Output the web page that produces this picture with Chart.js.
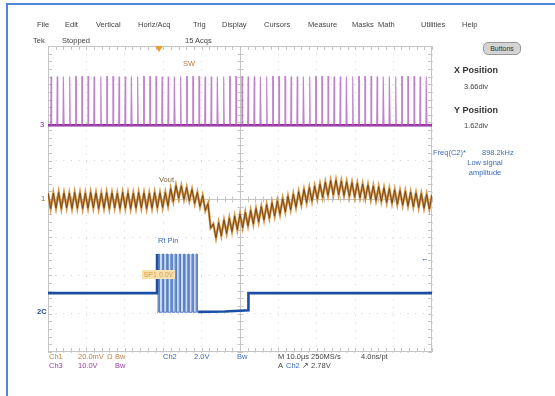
<!DOCTYPE html>
<html>
<head>
<meta charset="utf-8">
<script src="https://cdn.jsdelivr.net/npm/chart.js@4.4.1/dist/chart.umd.min.js"></script>
<style>
  body { margin: 0; width: 555px; height: 396px; overflow: hidden; position: relative; background: #fff;
         font-family: "Liberation Sans", Arial, sans-serif; }
  #frame { position: absolute; left: 6px; top: 3px; width: 600px; height: 420px;
           border-left: 2px solid #4f86d6; border-top: 2px solid #4f86d6; }
  canvas { position: absolute; left: 0; top: 0; }
  .t { position: absolute; font-size: 7.5px; line-height: 10px; color: #444; white-space: nowrap; }
  .b { font-weight: bold; font-size: 9px; color: #333; }
  #btn { position: absolute; left: 483px; top: 42px; width: 36px; height: 11px; border-radius: 5px;
         background: #d4d4d4; border: 1px solid #999; font-size: 7px; line-height: 11px; text-align: center; color: #333; }
  #sp1 { position: absolute; left: 142px; top: 270px; width: 33px; height: 9px; background: #f8e0ae;
         font-size: 7px; line-height: 9px; color: #d9a04a; text-align: center; }
</style>
</head>
<body>
<div id="frame"></div>
<canvas id="scope" width="555" height="396"></canvas>
<div id="btn">Buttons</div>
<div id="sp1">SP1 0.0V</div>
<script>
// screen is 10 x 8 divisions, values in divisions
var divX = [0, 10];
var divY = [-4, 4];

// ch3 (SW) : switching pulses, times in div
var swLow = 1.93;
var swHigh = 3.2;
var swPulses = [0.08, 0.24, 0.40, 0.56, 0.72, 0.88, 1.04, 1.20, 1.37, 1.53, 1.69, 1.85, 2.01,
  2.17, 2.33, 2.49, 2.65, 2.81, 2.97, 3.13, 3.29, 3.45, 3.61, 3.77, 3.93, 4.09, 4.25, 4.41,
  4.57, 4.73, 4.89, 5.05, 5.21, 5.37, 5.53, 5.69, 5.85, 6.01, 6.17, 6.33, 6.49, 6.65, 6.81,
  6.97, 7.13, 7.29, 7.45, 7.61, 7.77, 7.93, 8.09, 8.25, 8.41, 8.57, 8.73, 8.89, 9.05, 9.21,
  9.37, 9.53, 9.69, 9.85];

// ch1 (Vout) : ripple vertices, one every voutStep div
var voutStep = 10 / 144;
var vout = [
  0.16, -0.25, 0.15, -0.24, 0.17, -0.25, 0.16, -0.23, 0.15, -0.25, 0.17, -0.24, 0.16, -0.25,
  0.15, -0.24, 0.17, -0.23, 0.16, -0.25, 0.15, -0.24, 0.17, -0.25, 0.16, -0.23, 0.15, -0.25,
  0.17, -0.24, 0.16, -0.25, 0.15, -0.24, 0.17, -0.23, 0.16, -0.25, 0.15, -0.24, 0.17, -0.23,
  0.16, -0.22, 0.17, -0.18, 0.27, -0.06, 0.35, 0.02, 0.34, -0.01, 0.30, -0.05, 0.25, -0.12,
  0.17, -0.20, 0.09, -0.30, -0.12, -0.76, -0.65, -1.02, -0.62, -0.96, -0.55, -0.90, -0.50,
  -0.85, -0.45, -0.80, -0.40, -0.75, -0.35, -0.70, -0.30, -0.65, -0.25, -0.60, -0.20, -0.55,
  -0.15, -0.50, -0.10, -0.45, -0.05, -0.40, 0.01, -0.34, 0.07, -0.28, 0.13, -0.22, 0.19, -0.15,
  0.25, -0.10, 0.30, -0.05, 0.34, 0.00, 0.39, 0.04, 0.44, 0.09, 0.48, 0.11, 0.49, 0.11, 0.47,
  0.09, 0.45, 0.07, 0.43, 0.05, 0.41, 0.03, 0.39, 0.01, 0.37, -0.01, 0.34, -0.04, 0.32, -0.06,
  0.29, -0.09, 0.27, -0.11, 0.24, -0.14, 0.22, -0.16, 0.20, -0.18, 0.18, -0.20, 0.16, -0.22,
  0.14, -0.24, 0.12, -0.26, 0.11];

// ch2 (Rt pin)
var ch2Times  = [0, 2.84, 2.84, 3.37, 3.91, 4.60, 5.22, 5.22, 10];
var ch2Levels = [-2.46, -2.46, -1.44, null, -2.95, -2.94, -2.91, -2.46, -2.46];
var burstStart = 2.84, burstEnd = 3.91;
var burstHigh = -1.44, burstLow = -2.96;
var burstTimes = [2.87, 2.98, 3.09, 3.20, 3.31, 3.42, 3.53, 3.64, 3.75, 3.86];

var swData = [{x: 0, y: swLow}];
swPulses.forEach(function(t) {
  swData.push({x: t - 0.01, y: swLow}, {x: t, y: swHigh}, {x: t + 0.01, y: swHigh}, {x: t + 0.02, y: swLow});
});
swData.push({x: 10, y: swLow});

var voutData = vout.map(function(v, i) { return {x: i * voutStep, y: v}; });
var ch2Data = ch2Times.map(function(t, i) { return {x: t, y: ch2Levels[i]}; });
var burstData = [{x: burstStart, y: burstLow}];
burstTimes.forEach(function(t) {
  burstData.push({x: t, y: burstLow}, {x: t, y: burstHigh}, {x: t + 0.03, y: burstHigh}, {x: t + 0.03, y: burstLow});
});
burstData.push({x: burstEnd, y: burstLow});

// graticule: frame, solid centre lines, minor ticks
var graticule = {
  id: 'graticule',
  beforeDatasetsDraw: function(chart) {
    var ctx = chart.ctx, xs = chart.scales.x, ys = chart.scales.y, a = chart.chartArea;
    ctx.save();
    ctx.strokeStyle = '#c4c4c4';
    ctx.lineWidth = 1;
    ctx.strokeRect(a.left + 0.5, a.top + 0.5, a.right - a.left - 1, a.bottom - a.top - 1);
    var cx = Math.round(xs.getPixelForValue(5)) + 0.5, cy = Math.round(ys.getPixelForValue(0)) + 0.5;
    ctx.beginPath();
    ctx.moveTo(cx, a.top); ctx.lineTo(cx, a.bottom);
    ctx.moveTo(a.left, cy); ctx.lineTo(a.right, cy);
    for (var v = 0; v <= 10.001; v += 0.2) {
      var px = Math.round(xs.getPixelForValue(v)) + 0.5;
      ctx.moveTo(px, cy - 3); ctx.lineTo(px, cy + 3);
      ctx.moveTo(px, a.top); ctx.lineTo(px, a.top + 4);
      ctx.moveTo(px, a.bottom); ctx.lineTo(px, a.bottom - 4);
    }
    for (var w = -4; w <= 4.001; w += 0.2) {
      var py = Math.round(ys.getPixelForValue(w)) + 0.5;
      ctx.moveTo(cx - 3, py); ctx.lineTo(cx + 3, py);
      ctx.moveTo(a.left, py); ctx.lineTo(a.left + 4, py);
      ctx.moveTo(a.right, py); ctx.lineTo(a.right - 4, py);
    }
    ctx.stroke();
    ctx.restore();
  }
};

var line = function(data, color, width, extra) {
  var ds = {data: data, borderColor: color, borderWidth: width, showLine: true, pointRadius: 0, tension: 0, fill: false};
  for (var k in extra) ds[k] = extra[k];
  return ds;
};

new Chart(document.getElementById('scope').getContext('2d'), {
  type: 'scatter',
  data: {
    datasets: [
      line(swData, 'rgba(175,100,190,0.8)', 1.1),
      line([{x: 0, y: swLow}, {x: 10, y: swLow}], '#8c1a96', 2.6),
      line(voutData, '#6e4112', 0.9),
      line(voutData, '#d29548', 2.4),
      line(ch2Data, '#1c4fa3', 2.6, {spanGaps: false}),
      line(burstData, '#5a80c4', 1),
      line([{x: burstStart, y: burstHigh}, {x: burstEnd, y: burstHigh}], 'rgba(0,0,0,0)', 0,
           {fill: {value: burstLow}, backgroundColor: 'rgba(190,208,232,0.8)'})
    ]
  },
  options: {
    responsive: false,
    animation: false,
    layout: {padding: {left: 48, top: 46, right: 123, bottom: 44}},
    plugins: {legend: {display: false}, tooltip: {enabled: false}},
    scales: {
      x: {type: 'linear', min: divX[0], max: divX[1],
          ticks: {display: false, stepSize: 1},
          grid: {color: '#d2d2d2', drawTicks: false, lineWidth: 1},
          border: {display: false, dash: [1, 6.68]}},
      y: {type: 'linear', min: divY[0], max: divY[1],
          ticks: {display: false, stepSize: 1},
          grid: {color: '#d2d2d2', drawTicks: false, lineWidth: 1},
          border: {display: false, dash: [1, 6.65]}}
    }
  },
  plugins: [graticule]
});

// screen text
var texts = [
  ['File', 37, 25], ['Edit', 65, 25], ['Vertical', 96, 25], ['Horiz/Acq', 138, 25], ['Trig', 193, 25],
  ['Display', 222, 25], ['Cursors', 264, 25], ['Measure', 308, 25], ['Masks', 352, 25], ['Math', 378, 25],
  ['Utilities', 421, 25], ['Help', 462, 25],
  ['Tek', 33, 41], ['Stopped', 62, 41], ['15 Acqs', 185, 41],
  ['SW', 183, 64, '#b57a4a'], ['Vout', 159, 180, '#8a6a3e'], ['Rt Pin', 158, 241, '#3d6cc0'],
  ['3', 40, 125, '#8c1a96'], ['1', 41, 199, '#9a6a30'], ['2C', 37, 312, '#1c4fa3', 'font-weight:bold'],
  ['\u2190', 421, 259, '#1c4fa3'],
  ['Freq(C2)*', 433, 153, '#3d6cc0'], ['898.2kHz', 482, 153, '#3d6cc0'],
  ['Ch1', 49, 357, '#c0844a'], ['20.0mV', 78, 357, '#c0844a'], ['\u03a9', 107, 357, '#c0844a'], ['Bw', 115, 357, '#c0844a'],
  ['Ch2', 163, 357, '#3d6cc0'], ['2.0V', 194, 357, '#3d6cc0'], ['Bw', 237, 357, '#3d6cc0'],
  ['M 10.0\u00b5s 250MS/s', 278, 357], ['4.0ns/pt', 361, 357],
  ['Ch3', 49, 366, '#a040b0'], ['10.0V', 78, 366, '#a040b0'], ['Bw', 115, 366, '#a040b0'],
  ['A', 278, 366], ['Ch2', 286, 366, '#3d6cc0'], ['\u2197 2.78V', 302, 366]
];
texts.forEach(function(t) {
  var d = document.createElement('div');
  d.className = 't';
  d.textContent = t[0];
  d.style.left = t[1] + 'px';
  d.style.top = (t[2] - 5) + 'px';
  if (t[3]) d.style.color = t[3];
  if (t[4]) d.style.cssText += ';' + t[4];
  document.body.appendChild(d);
});

// right panel, centred around x = 476
var panel = [['X Position', 70, true], ['3.66div', 87], ['Y Position', 110, true], ['1.62div', 126],
             ['Low signal', 163, false, '#3d6cc0'], ['amplitude', 173, false, '#3d6cc0']];
panel.forEach(function(p) {
  var d = document.createElement('div');
  d.className = p[2] ? 't b' : 't';
  d.textContent = p[0];
  d.style.left = (p[3] ? 435 : 426) + 'px';
  d.style.width = '100px';
  d.style.textAlign = 'center';
  d.style.top = (p[1] - 5) + 'px';
  if (p[3]) d.style.color = p[3];
  document.body.appendChild(d);
});

// trigger position marker
var tri = document.createElement('div');
tri.style.cssText = 'position:absolute;left:155px;top:46px;width:0;height:0;border-left:4px solid transparent;' +
  'border-right:4px solid transparent;border-top:6px solid #e8a030;';
document.body.appendChild(tri);
</script>
</body>
</html>
